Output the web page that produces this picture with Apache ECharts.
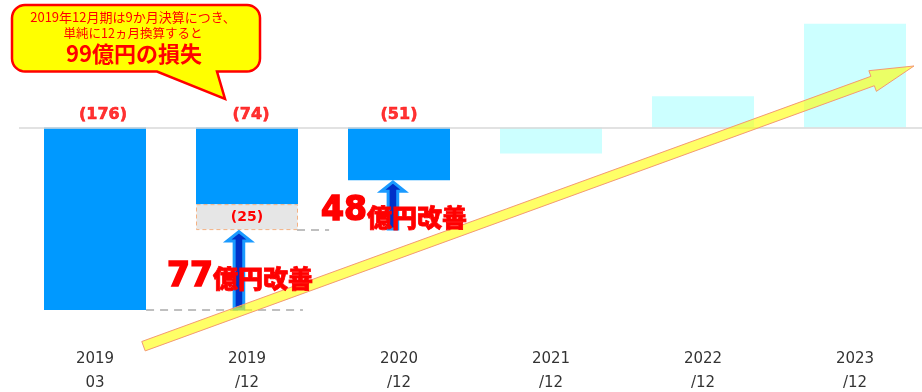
<!DOCTYPE html>
<html>
<head>
<meta charset="utf-8">
<script src="https://cdn.jsdelivr.net/npm/echarts@6/dist/echarts.min.js"></script>
<style>
  html, body { margin: 0; padding: 0; background: #ffffff; }
  #chart { width: 922px; height: 392px; }
</style>
</head>
<body>
<div id="chart"></div>
<script>
// Fiscal periods (億円)
const periods = ['2019\n03', '2019\n/12', '2020\n/12', '2021\n/12', '2022\n/12', '2023\n/12'];
// Reported results
const actualResults = [-176, -74, -51, '-', '-', '-'];
// Extra loss when the 9-month 2019/12 period is scaled to 12 months (-74 -> -99)
const annualizedExtra = ['-', -25, '-', '-', '-', '-'];
// Plan for the following years
const planTargets = ['-', '-', '-', -25, 30, 100];
// Annualized 2019/12 result
const annualizedLoss = -99;

// Improvement steps: [x on the helper value axis, from, to]
const improvementSteps = [
  [0.947, -176, annualizedLoss],
  [1.96, annualizedLoss, -51]
];

// ---- layout (pixels / helper-axis positions, not data) ----
const improvementLabelPos = [
  { numY: -144.2, unitY: -145.6 },
  { numY: -81.0, unitY: -87.3 }
];
const valueLabelShift = [8, 4, 0, 0, 0, 0];
const trendArrow = [[0.319, -211, 5.388, 59.3]];
const dashedGuides = [
  [0.336, 1.368, -176],
  [1.329, 1.54, annualizedLoss]
];

const chart = echarts.init(document.getElementById('chart'), null, { renderer: 'canvas' });

function bubblePoints(x0, y0, x1, y1, r, tailLeft, tailRight, tip) {
  const pts = [];
  const arc = (cx, cy, a0, a1) => {
    for (let i = 0; i <= 8; i++) {
      const a = a0 + (a1 - a0) * i / 8;
      pts.push([cx + r * Math.cos(a), cy + r * Math.sin(a)]);
    }
  };
  arc(x0 + r, y0 + r, Math.PI, 1.5 * Math.PI);
  arc(x1 - r, y0 + r, 1.5 * Math.PI, 2 * Math.PI);
  arc(x1 - r, y1 - r, 0, 0.5 * Math.PI);
  pts.push([tailRight, y1], tip, [tailLeft, y1]);
  arc(x0 + r, y1 - r, 0.5 * Math.PI, Math.PI);
  return pts;
}

function renderUpArrow(params, api) {
  const x = api.value(0);
  const base = api.coord([x, api.value(1)]);
  const tip = api.coord([x, api.value(2)]);
  const cx = base[0];
  const sh = 4.8, hh = 11.8, hl = 11;
  const hy = tip[1] + hl;
  return {
    type: 'polygon',
    shape: {
      points: [
        [cx - sh, base[1] - 1], [cx - sh, hy], [cx - hh, hy], [cx, tip[1] + 1.5],
        [cx + hh, hy], [cx + sh, hy], [cx + sh, base[1] - 1]
      ]
    },
    style: { fill: '#0030c8', stroke: '#1a9aff', lineWidth: 3, lineJoin: 'miter' }
  };
}

function renderTrendArrow(params, api) {
  const p0 = api.coord([api.value(0), api.value(1)]);
  const p1 = api.coord([api.value(2), api.value(3)]);
  const dx = p1[0] - p0[0], dy = p1[1] - p0[1];
  const len = Math.sqrt(dx * dx + dy * dy);
  const ux = dx / len, uy = dy / len;
  const nx = -uy, ny = ux;
  const sw = 5, hw = 11, hl = 44;
  const hb = [p1[0] - ux * hl, p1[1] - uy * hl];
  const P = (b, k) => [b[0] + nx * k, b[1] + ny * k];
  return {
    type: 'polygon',
    shape: { points: [P(p0, sw), P(hb, sw), P(hb, hw), p1, P(hb, -hw), P(hb, -sw), P(p0, -sw)] },
    style: { fill: 'rgba(255,255,0,0.6)', stroke: '#f49a72', lineWidth: 1 }
  };
}

function renderGuide(params, api) {
  const a = api.coord([api.value(0), api.value(2)]);
  const b = api.coord([api.value(1), api.value(2)]);
  return {
    type: 'line',
    shape: { x1: a[0], y1: a[1], x2: b[0], y2: b[1] },
    style: { stroke: '#bfbfbf', lineWidth: 2, lineDash: [8, 6] }
  };
}

function renderImprovementLabel(params, api) {
  const i = params.dataIndex;
  const x = api.value(0);
  const diff = Math.round(api.value(2) - api.value(1));
  const pos = improvementLabelPos[i];
  const n = api.coord([x, pos.numY]);
  const u = api.coord([x, pos.unitY]);
  return {
    type: 'group',
    children: [
      {
        type: 'text', x: n[0] - 26, y: n[1],
        style: {
          text: String(diff), fill: '#ff0000',
          fontFamily: '"DejaVu Sans", sans-serif', fontWeight: 'bold', fontSize: 33,
          stroke: '#ff0000', lineWidth: 1.6,
          align: 'right', verticalAlign: 'middle'
        }
      },
      {
        type: 'text', x: u[0] - 26, y: u[1],
        style: {
          text: '億円改善', fill: '#ff0000',
          fontFamily: '"Noto Sans CJK JP", sans-serif', fontWeight: 900, fontSize: 25,
          stroke: '#ff0000', lineWidth: 0.8,
          align: 'left', verticalAlign: 'middle'
        }
      }
    ]
  };
}

const calloutFont = '"Noto Sans CJK JP", sans-serif';

const option = {
  animation: false,
  backgroundColor: '#ffffff',
  grid: { left: 19, width: 912, top: 23.8, height: 311, containLabel: false, outerBoundsMode: 'none' },
  xAxis: [
    {
      type: 'category',
      data: periods,
      axisLine: { show: false },
      axisTick: { show: false },
      axisLabel: {
        interval: 0, margin: 12, color: '#333333',
        fontFamily: '"DejaVu Sans", sans-serif', fontSize: 15, lineHeight: 24
      },
      splitLine: { show: false }
    },
    { type: 'value', min: -0.5, max: 5.5, show: false }
  ],
  yAxis: {
    type: 'value', min: -200, max: 100, show: false,
    splitLine: { show: false }
  },
  graphic: [
    {
      type: 'polygon', z: 100,
      shape: { points: bubblePoints(12, 5, 260, 71.5, 13, 157, 217, [225, 99]) },
      style: { fill: '#ffff00', stroke: '#ff0000', lineWidth: 2.5 }
    },
    {
      type: 'text', z: 101, x: 133, y: 17.5,
      style: {
        text: '2019年12月期は9か月決算につき、', fill: '#ff0000',
        fontFamily: calloutFont, fontSize: 13,
        align: 'center', verticalAlign: 'middle', textAlign: 'center', textVerticalAlign: 'middle'
      }
    },
    {
      type: 'text', z: 101, x: 133, y: 33.5,
      style: {
        text: '単純に12ヵ月換算すると', fill: '#ff0000',
        fontFamily: calloutFont, fontSize: 12.5,
        align: 'center', verticalAlign: 'middle', textAlign: 'center', textVerticalAlign: 'middle'
      }
    },
    {
      type: 'text', z: 101, x: 134, y: 54,
      style: {
        text: '99億円の損失', fill: '#ff0000',
        fontFamily: calloutFont, fontSize: 22, fontWeight: 'bold',
        align: 'center', verticalAlign: 'middle', textAlign: 'center', textVerticalAlign: 'middle'
      }
    }
  ],
  series: [
    {
      name: '実績', type: 'bar', stack: 'pl', barWidth: 102,
      data: actualResults,
      itemStyle: { color: '#0099ff' },
      z: 2
    },
    {
      name: '12ヵ月換算', type: 'bar', stack: 'pl', barWidth: 102,
      data: annualizedExtra,
      itemStyle: { color: '#e6e6e6', borderColor: '#f4b183', borderWidth: 1, borderType: [4, 3] },
      label: {
        show: true, position: 'inside',
        formatter: p => '(' + Math.abs(p.value) + ')',
        color: '#ff0000', fontFamily: '"DejaVu Sans", sans-serif', fontWeight: 'bold', fontSize: 14
      },
      z: 2
    },
    {
      name: '計画', type: 'bar', stack: 'pl', barWidth: 102,
      data: planTargets,
      itemStyle: { color: '#ccffff' },
      z: 2,
      markLine: {
        silent: true, symbol: 'none',
        lineStyle: { color: '#d9d9d9', width: 1.5, type: 'solid' },
        label: { show: false },
        data: [{ yAxis: 0 }]
      }
    },
    {
      name: '実績ラベル', type: 'scatter', symbolSize: 0, silent: true,
      data: actualResults.map((v, i) => v === '-' ? '-' : {
        value: 0,
        label: { offset: [valueLabelShift[i], 0] }
      }),
      label: {
        show: true, position: 'top', distance: 4.5,
        formatter: p => '(' + Math.abs(actualResults[p.dataIndex]) + ')',
        color: '#ff0000', fontFamily: '"DejaVu Sans", sans-serif', fontWeight: 'bold', fontSize: 16,
        textBorderColor: '#ff0000', textBorderWidth: 0.6
      },
      z: 6
    },
    {
      type: 'custom', xAxisIndex: 1, yAxisIndex: 0, clip: false, silent: true,
      renderItem: renderGuide, data: dashedGuides, z: 3
    },
    {
      type: 'custom', xAxisIndex: 1, yAxisIndex: 0, clip: false, silent: true,
      renderItem: renderUpArrow, data: improvementSteps, z: 4
    },
    {
      type: 'custom', xAxisIndex: 1, yAxisIndex: 0, clip: false, silent: true,
      renderItem: renderTrendArrow, data: trendArrow, z: 5
    },
    {
      type: 'custom', xAxisIndex: 1, yAxisIndex: 0, clip: false, silent: true,
      renderItem: renderImprovementLabel, data: improvementSteps, z: 6
    }
  ]
};

chart.setOption(option);
</script>
</body>
</html>
